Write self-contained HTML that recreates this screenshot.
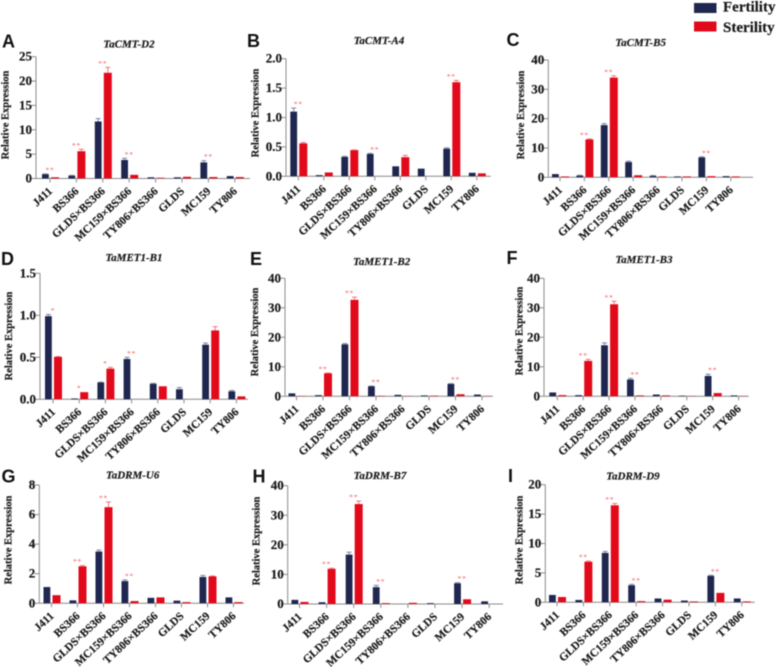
<!DOCTYPE html>
<html lang="en">
<head>
<meta charset="utf-8">
<title>Relative expression of methyltransferase genes</title>
<style>
html,body{margin:0;padding:0;background:#fff;width:778px;height:667px;overflow:hidden}
svg{display:block;filter:blur(0.4px)}
text{font-family:"Liberation Serif",serif;font-weight:bold;fill:#1a1a1a;stroke:#1a1a1a;stroke-width:0.2px}
.letter{font-family:"Liberation Sans",sans-serif;font-size:18px;fill:#111;stroke:none}
.title{font-style:italic;font-size:11px;text-anchor:middle}
.ytick{font-size:13px;text-anchor:end}
.ytitle{font-size:10.5px;text-anchor:middle}
.xlab{font-size:11.3px;text-anchor:end}
.sig{font-size:7.5px;fill:#f4545a;stroke:none;text-anchor:middle;font-weight:normal;letter-spacing:0.8px}
.legend{font-size:15px}
</style>
</head>
<body>
<svg id="figure" xmlns="http://www.w3.org/2000/svg" width="778" height="667" viewBox="0 0 778 667">
  <g>
    <rect x="694" y="3" width="22.5" height="10" fill="#1f2750"/>
    <text class="legend" x="723" y="11.5">Fertility</text>
    <rect x="694" y="21.5" width="22.5" height="10" fill="#e20a1a"/>
    <text class="legend" x="723" y="32">Sterility</text>
  </g>
</svg>
<script>
const categories = ["J411","BS366","GLDS×BS366","MC159×BS366","TY806×BS366","GLDS","MC159","TY806"];

const aFertility = [0.9,0.6,11.7,3.8,0.25,0.25,3.3,0.5];
const aFertilityErr = [0.05,0.05,0.6,0.35,0,0,0.35,0];
const aSterility = [0.25,5.6,21.7,0.75,0.15,0.35,0.3,0.3];
const aSterilityErr = [0,0.4,1.1,0,0,0,0,0];
const aSignificance = ["**","**","**","**","","","**",""];
const aTicks = [0,5,10,15,20,25];

const bFertility = [1.1,0.02,0.33,0.38,0.17,0.13,0.47,0.06];
const bFertilityErr = [0.06,0,0.01,0.01,0,0,0.015,0];
const bSterility = [0.56,0.065,0.445,0,0.325,0,1.6,0.05];
const bSterilityErr = [0.015,0,0.005,0,0.03,0,0.03,0];
const bSignificance = ["**","","","**","","","**",""];
const bTicks = ["0.0","0.5","1.0","1.5","2.0"];

const cFertility = [1.1,0.6,17.8,5.2,0.5,0.3,6.8,0.4];
const cFertilityErr = [0,0.1,0.5,0.3,0.1,0,0.2,0];
const cSterility = [0.3,12.9,34,0.7,0.3,0.3,0.4,0.3];
const cSterilityErr = [0,0.2,0.6,0,0,0,0,0];
const cSignificance = ["","**","**","","","","**",""];
const cTicks = [0,10,20,30,40];

const dFertility = [0.99,0.01,0.2,0.48,0.185,0.12,0.65,0.095];
const dFertilityErr = [0.02,0,0.005,0.02,0.005,0.02,0.02,0.01];
const dSterility = [0.505,0.085,0.365,0,0.155,0,0.82,0.035];
const dSterilityErr = [0.005,0,0.015,0,0,0,0.045,0];
const dSignificance = ["*","*","*","**","","","",""];
const dTicks = ["0.0","0.5","1.0","1.5"];

const eFertility = [1,0.4,17.6,3.4,0.5,0.3,4.2,0.6];
const eFertilityErr = [0,0,0.3,0.1,0,0,0.1,0];
const eSterility = [0.1,7.8,32.7,0.15,0.1,0.2,0.7,0.1];
const eSterilityErr = [0,0.1,0.9,0,0,0,0,0];
const eSignificance = ["","**","**","**","","","**",""];
const eTicks = [0,10,20,30,40];

const fFertility = [1.3,0.4,17.3,5.7,0.6,0.2,6.9,0.3];
const fFertilityErr = [0,0,0.8,0.4,0,0,0.6,0];
const fSterility = [0.4,12,31.2,0.3,0.3,0.1,1.1,0.1];
const fSterilityErr = [0,0.5,1,0,0,0,0,0];
const fSignificance = ["","**","**","**","","","**",""];
const fTicks = [0,10,20,30,40];

const gFertility = [1.1,0.2,3.5,1.5,0.37,0.18,1.78,0.4];
const gFertilityErr = [0,0,0.1,0.08,0,0,0.1,0];
const gSterility = [0.55,2.5,6.5,0.15,0.4,0.08,1.82,0.08];
const gSterilityErr = [0,0.05,0.35,0,0,0,0.03,0];
const gSignificance = ["","**","**","**","","","",""];
const gTicks = [0,2,4,6,8];

const hFertility = [1.4,0.6,16.7,5.7,0,0.3,7,0.9];
const hFertilityErr = [0,0,0.8,0.6,0,0,0.2,0];
const hSterility = [0.7,11.9,33.8,0.3,0.4,0,1.6,0];
const hSterilityErr = [0,0.2,1,0,0,0,0,0];
const hSignificance = ["","**","**","**","","","**",""];
const hTicks = [0,10,20,30,40];

const iFertility = [1.25,0.4,8.4,2.9,0.65,0.3,4.5,0.65];
const iFertilityErr = [0,0,0.25,0.15,0,0,0.1,0];
const iSterility = [0.9,6.9,16.5,0.2,0.45,0.15,1.6,0.15];
const iSterilityErr = [0,0.1,0.3,0,0,0,0,0];
const iSignificance = ["","**","**","**","","","**",""];
const iTicks = [0,5,10,15,20];

const panels = [
 {id:"a",letter:"A",gene:"TaCMT-D2",fert:aFertility,fertErr:aFertilityErr,ster:aSterility,sterErr:aSterilityErr,sig:aSignificance,ticks:aTicks,
  axisX:36,y0:178.5,yTop:56.7,first:50,step:26.4,end:250,letterX:2,letterY:47.5,titleX:129,titleY:47.5,yTitleX:8.5,yTitleY:115},
 {id:"b",letter:"B",gene:"TaCMT-A4",fert:bFertility,fertErr:bFertilityErr,ster:bSterility,sterErr:bSterilityErr,sig:bSignificance,ticks:bTicks,
  axisX:286,y0:176.3,yTop:58.7,first:298.3,step:25.5,end:490.7,letterX:247,letterY:47,titleX:379,titleY:44,yTitleX:258.5,yTitleY:113},
 {id:"c",letter:"C",gene:"TaCMT-B5",fert:cFertility,fertErr:cFertilityErr,ster:cSterility,sterErr:cSterilityErr,sig:cSignificance,ticks:cTicks,
  axisX:548.3,y0:177.3,yTop:60,first:560,step:24.4,end:753,letterX:506.5,letterY:46,titleX:640.7,titleY:46,yTitleX:524,yTitleY:115},
 {id:"d",letter:"D",gene:"TaMET1-B1",fert:dFertility,fertErr:dFertilityErr,ster:dSterility,sterErr:dSterilityErr,sig:dSignificance,ticks:dTicks,
  axisX:40,y0:399.3,yTop:273.3,first:53,step:26.2,end:248,letterX:1,letterY:265,titleX:134,titleY:261,yTitleX:12,yTitleY:336},
 {id:"e",letter:"E",gene:"TaMET1-B2",fert:eFertility,fertErr:eFertilityErr,ster:eSterility,sterErr:eSterilityErr,sig:eSignificance,ticks:eTicks,
  axisX:285,y0:396.3,yTop:278.3,first:296.5,step:26.5,end:493,letterX:250,letterY:265,titleX:381.7,titleY:265,yTitleX:258,yTitleY:332},
 {id:"f",letter:"F",gene:"TaMET1-B3",fert:fFertility,fertErr:fFertilityErr,ster:fSterility,sterErr:fSterilityErr,sig:fSignificance,ticks:fTicks,
  axisX:544,y0:396.3,yTop:278.3,first:557.3,step:25.9,end:748.7,letterX:506.5,letterY:264,titleX:644,titleY:263,yTitleX:522.5,yTitleY:331},
 {id:"g",letter:"G",gene:"TaDRM-U6",fert:gFertility,fertErr:gFertilityErr,ster:gSterility,sterErr:gSterilityErr,sig:gSignificance,ticks:gTicks,
  axisX:39.3,y0:603.3,yTop:485,first:51.5,step:26,end:244,letterX:1.5,letterY:482.5,titleX:132.7,titleY:478.7,yTitleX:11.5,yTitleY:540},
 {id:"h",letter:"H",gene:"TaDRM-B7",fert:hFertility,fertErr:hFertilityErr,ster:hSterility,sterErr:hSterilityErr,sig:hSignificance,ticks:hTicks,
  axisX:287.7,y0:604,yTop:485.7,first:299.5,step:27.1,end:503,letterX:252.5,letterY:482.5,titleX:380,titleY:479,yTitleX:259.5,yTitleY:541},
 {id:"i",letter:"I",gene:"TaDRM-D9",fert:iFertility,fertErr:iFertilityErr,ster:iSterility,sterErr:iSterilityErr,sig:iSignificance,ticks:iTicks,
  axisX:545.3,y0:602.3,yTop:484.7,first:557,step:26.4,end:754.7,letterX:508,letterY:482,titleX:633,titleY:479.7,yTitleX:522.5,yTitleY:540}
];

const NS = "http://www.w3.org/2000/svg";
const figure = document.getElementById("figure");
const NAVY = "#1f2750", RED = "#e20a1a", AXIS = "#8b8b8b";

function make(parent, tag, props, content) {
  const el = document.createElementNS(NS, tag);
  for (const key in props) el.setAttribute(key, props[key]);
  if (content !== undefined) el.textContent = content;
  parent.appendChild(el);
  return el;
}

function drawBar(g, x, width, value, err, yScale, y0, color, errColor) {
  const top = yScale(value);
  const bar = make(g, "rect", {x: x, y: top, width: width, height: Math.max(0, y0 - top), fill: color});
  
  
  if (err > 0) {
    const errTop = yScale(value + err);
    const mid = x + width / 2;
    const stem = make(g, "line", {x1: mid, x2: mid, y1: top, y2: errTop, stroke: errColor, "stroke-width": 1});
    
    
    const cap = make(g, "line", {x1: mid - 2.5, x2: mid + 2.5, y1: errTop, y2: errTop, stroke: errColor, "stroke-width": 1});
    
    
  }
}

panels.forEach(function (p) {
  const g = make(figure, "g", {});
  
  

  const tickNums = p.ticks.map(Number);
  const maxTick = Math.max.apply(null, tickNums);
  const yScale = function (v) { return p.y0 - (v / maxTick) * (p.y0 - p.yTop); };
  const xScale = function (i) { return p.first + i * p.step; };

  const letter = make(g, "text", {class: "letter", x: p.letterX, y: p.letterY}, p.letter);
  
  

  const title = make(g, "text", {class: "title", x: p.titleX, y: p.titleY}, p.gene);
  
  

  const yTitle = make(g, "text", {class: "ytitle", x: p.yTitleX, y: p.yTitleY,
    transform: "rotate(-90 " + p.yTitleX + " " + p.yTitleY + ")"}, "Relative Expression");
  
  

  const yAxis = make(g, "line", {x1: p.axisX, x2: p.axisX, y1: p.yTop, y2: p.y0, stroke: AXIS, "stroke-width": 1});
  
  

  const xAxis = make(g, "line", {x1: p.axisX, x2: p.end, y1: p.y0, y2: p.y0, stroke: AXIS, "stroke-width": 1});
  
  

  p.ticks.forEach(function (t) {
    const y = yScale(Number(t));
    const tick = make(g, "line", {x1: p.axisX - 5, x2: p.axisX, y1: y, y2: y, stroke: AXIS, "stroke-width": 1});
    
    
    const label = make(g, "text", {class: "ytick", x: p.axisX - 4, y: y + 4}, String(t));
    
    
  });

  categories.forEach(function (cat, i) {
    const c = xScale(i);
    const tick = make(g, "line", {x1: c, x2: c, y1: p.y0, y2: p.y0 + 4, stroke: AXIS, "stroke-width": 1});
    
    

    const lx = c + 3;
    const ly = p.y0 + 13.5;
    const label = make(g, "text", {class: "xlab", x: lx, y: ly, transform: "rotate(-43 " + lx + " " + ly + ")"}, cat);
    
    

    drawBar(g, c - 8, 6.8, p.fert[i], p.fertErr[i], yScale, p.y0, NAVY, "#7d84a3");
    drawBar(g, c + 1, 8, p.ster[i], p.sterErr[i], yScale, p.y0, RED, "#f0747c");

    if (p.sig[i]) {
      const top = Math.min(yScale(p.fert[i] + p.fertErr[i]), yScale(p.ster[i] + p.sterErr[i]));
      const star = make(g, "text", {class: "sig", x: c, y: top - 1.5}, p.sig[i]);
      
      
    }
  });
});
</script>
</body>
</html>
